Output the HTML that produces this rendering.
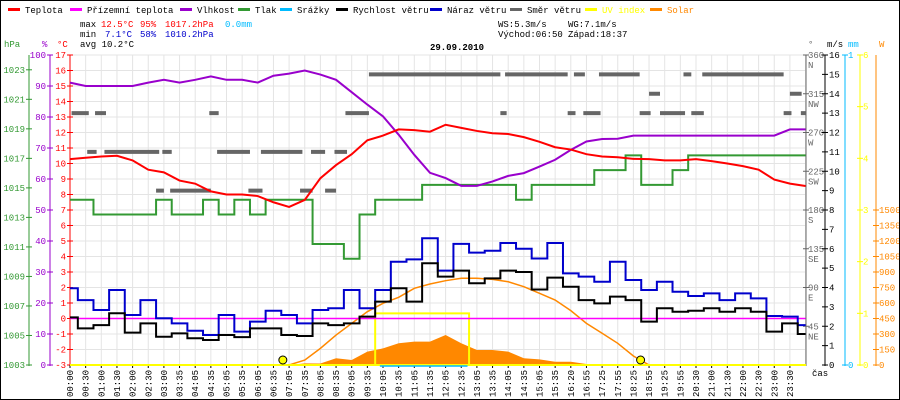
<!DOCTYPE html>
<html><head><meta charset="utf-8"><style>
html,body{margin:0;padding:0;background:#fff}
#wrap{position:relative;width:898px;height:398px;border:1px solid #000;overflow:hidden}
svg{display:block}
text{font-family:"Liberation Mono",monospace;font-size:9px}
</style></head><body>
<div id="wrap">
<svg id="c" width="898" height="398" viewBox="1 1 898 398"></svg>
</div>
<script>
const timeLabels=["00:00","00:30","01:00","01:30","02:00","02:30","03:00","03:35","04:05","04:35","05:05","05:35","06:05","06:35","07:05","07:35","08:05","08:35","09:05","09:35","10:05","10:35","11:05","11:35","12:05","12:35","13:05","13:35","14:05","14:35","15:05","15:35","16:20","16:55","17:25","17:55","18:25","18:55","19:25","19:55","20:30","21:00","21:30","22:00","22:30","23:00","23:30"];
const temperature=[10.28,10.37,10.45,10.5,10.2,9.6,9.43,8.9,8.7,8.2,8.0,8.0,7.9,7.5,7.2,7.65,9.05,9.9,10.6,11.5,11.8,12.2,12.15,12.05,12.5,12.3,12.1,11.95,11.9,11.7,11.4,11.05,10.9,10.6,10.45,10.4,10.3,10.28,10.2,10.2,10.28,10.15,10.0,9.83,9.6,8.96,8.7,8.55];
const apparentTemp=[0,0,0,0,0,0,0,0,0,0,0,0,0,0,0,0,0,0,0,0,0,0,0,0,0,0,0,0,0,0,0,0,0,0,0,0,0,0,0,0,0,0,0,0,0,0,0,0];
const humidity=[91.1,90,90,90,90,91.1,92,91.1,92,93.1,92,92,91.1,93.3,94,95,93.7,92,88,84,80.2,74.3,67.8,62,60.3,57.8,57.8,59.2,61,61.9,64,66.2,69.4,72.1,72.9,73,74,74,74,74,74,74,74,74,74,74,76,76];
const pressure=[1014.2,1014.2,1013.2,1013.2,1013.2,1013.2,1014.2,1013.2,1013.2,1014.2,1013.2,1014.2,1013.2,1014.2,1014.2,1014.2,1011.2,1011.2,1010.2,1013.2,1014.2,1014.2,1014.2,1015.2,1015.2,1015.2,1015.2,1015.2,1015.2,1014.2,1015.2,1015.2,1015.2,1015.2,1016.2,1016.2,1017.2,1015.2,1015.2,1016.2,1017.2,1017.2,1017.2,1017.2,1017.2,1017.2,1017.2,1017.2];
const windSpeed=[2.46,1.89,2.06,2.67,1.67,2.15,1.46,1.63,1.38,1.29,1.55,1.44,1.89,1.89,1.55,1.5,2.15,2.06,2.15,2.5,3.27,3.96,3.27,5.25,4.56,4.87,4.22,4.47,4.87,4.8,3.9,4.51,4.04,3.35,3.18,3.53,3.35,2.24,2.93,2.75,2.8,2.93,2.75,2.93,2.75,1.72,2.15,1.6];
const windGust=[3.96,3.35,2.84,3.87,2.58,3.35,2.41,2.15,1.77,1.55,2.58,1.72,2.24,2.8,2.58,2.15,2.84,2.93,3.87,2.93,3.87,5.33,5.45,6.54,4.87,6.25,5.8,5.9,6.3,6.0,5.5,6.3,4.73,4.56,4.3,5.33,4.39,3.87,4.3,3.78,3.56,3.7,3.35,3.7,3.44,2.53,2.5,2.06];
const uvIndex=[0,0,0,0,0,0,0,0,0,0,0,0,0,0,0,0,0,0,0,0,1,1,1,1,1,1,0,0,0,0,0,0,0,0,0,0,0,0,0,0,0,0,0,0,0,0,0,0];
const solarTheory=[0,0,0,0,0,0,0,0,0,0,0,0,0,0,0,48,161,290,403,516,597,655,742,784,816,839,839,829,806,758,694,629,526,403,307,210,87,0,0,0,0,0,0,0,0,0,0,0];
const solarActual=[0,0,0,0,0,0,0,0,0,0,0,0,0,0,0,16,15,65,48,129,161,210,226,226,290,210,145,145,129,65,55,32,32,10,0,0,10,0,0,0,0,0,0,0,0,0,0,0];
const dirStart=[0.1,1.6,8.9,17.6,1.1,2.2,5.9,9.4,12.2,15.4,16.9,5.5,6.4,11.4,14.7,16.3,19.1,27.8,32.2,33.8,39.2,40.4,37,46,27.5,31.8,32.8,36.4,37.7,39.7,45.6,46.7];
const dirEnd=[1.2,2.3,9.5,19.1,1.7,5.7,6.5,11.5,14.85,16.3,17.7,6.0,9.0,12.3,15.5,17.0,27.5,31.8,32.9,36.4,39.7,45.6,37.7,46.75,27.9,32.3,33.9,37.1,39.3,40.5,46.1,47];
const dirDeg=[292.5,292.5,292.5,292.5,247.5,247.5,247.5,247.5,247.5,247.5,247.5,202.5,202.5,202.5,202.5,202.5,337.5,337.5,337.5,337.5,337.5,337.5,315,315,292.5,292.5,292.5,292.5,292.5,292.5,292.5,292.5];
const sunEvents=[13.6,36.46];

const NS="http://www.w3.org/2000/svg";
const svg=document.getElementById('c');
const X=t=>70+t*15.65;
const yT=v=>55+(17-v)*15.5;
const yH=v=>365-v*3.1;
const yP=v=>365-(v-1003)*14.76;
const yW=v=>365-v*19.375;
const yD=v=>365-v*0.8611;
const yUV=v=>365-v*51.67;
const yS=v=>365-v*0.10333;
function el(tag,attrs,parent){const e=document.createElementNS(NS,tag);for(const k in attrs)e.setAttribute(k,attrs[k]);(parent||svg).appendChild(e);return e;}
function txt(x,y,s,fill,anchor,extra){const e=el('text',Object.assign({x:x,y:y,fill:fill||'#000','text-anchor':anchor||'start'},extra||{}));e.textContent=s;return e;}

// grid
const grid=el('g',{});


for(let v=-3;v<=17;v++){el('line',{x1:70,x2:806,y1:yT(v),y2:yT(v),stroke:'#e4e4e4','stroke-width':1},grid);}
for(let i=0;i<=47;i++){el('line',{x1:X(i),x2:X(i),y1:55,y2:365,stroke:'#e4e4e4','stroke-width':1},grid);}

// legend
const legend=[["Teplota","#ff0000",8],["Přízemní teplota","#ff00ff",70],["Vlhkost","#9900cc",180],["Tlak","#339933",238],["Srážky","#00bbff",280],["Rychlost větru","#000000",336],["Náraz větru","#0000cc",430],["Směr větru","#666666",510],["UV index","#ffff00",585],["Solar","#ff8800",650]];
legend.forEach(l=>{const g=el('g',{});


el('rect',{x:l[2],y:8,width:12,height:3,fill:l[1]},g);
const t=txt(l[2]+17,13,l[0],l[0]==="UV index"?'#ffff00':(l[0]==="Solar"?'#ff8800':'#000'));g.appendChild(t);});

// stats
function stat(x,y,s,c,name){const t=txt(x,y,s,c);}
stat(80,27,"max","#000","max-label");stat(101,27,"12.5°C","#ff0000","max-temp");stat(140,27,"95%","#ff0000","max-humidity");stat(165,27,"1017.2hPa","#ff0000","max-pressure");stat(225,27,"0.0mm","#00bbff","rain-total");
stat(80,37,"min","#000","min-label");stat(105,37,"7.1°C","#0000cc","min-temp");stat(140,37,"58%","#0000cc","min-humidity");stat(165,37,"1010.2hPa","#0000cc","min-pressure");
stat(80,47,"avg 10.2°C","#000","avg-temp");
stat(498,27,"WS:5.3m/s","#000","max-wind-speed");stat(568,27,"WG:7.1m/s","#000","max-wind-gust");
stat(498,37,"Východ:06:50","#000","sunrise-time");stat(568,37,"Západ:18:37","#000","sunset-time");
const title=txt(457,50,"29.09.2010","#000","middle",{'font-size':'12px','font-weight':'bold'});


// left axes
function axis(x,color,ticks,yf,name,labelX,anchor){const g=el('g',{});


el('line',{x1:x,x2:x,y1:55,y2:366,stroke:color,'stroke-width':1},g);
ticks.forEach(v=>{const y=yf(v);el('line',{x1:x-3,x2:x+3,y1:y,y2:y,stroke:color},g);const t=txt(labelX,y+3,String(v),color,anchor);g.appendChild(t);});}
const hpaTicks=[1003,1005,1007,1009,1011,1013,1015,1017,1019,1021,1023];
const humTicks=[0,10,20,30,40,50,60,70,80,90,100];
const tTicks=[];for(let v=-3;v<=17;v++)tTicks.push(v);
axis(29,'#339933',hpaTicks,yP,'pressure-axis',25,'end');
axis(50,'#9900cc',humTicks,yH,'humidity-axis',46,'end');
axis(70,'#ff0000',tTicks,yT,'temperature-axis',66,'end');
txt(4,47,"hPa","#339933");txt(42,47,"%","#9900cc");txt(57,47,"°C","#ff0000");
// right axes
const dirTicks=[45,90,135,180,225,270,315,360];const dirNames=["NE","E","SE","S","SW","W","NW","N"];
(function(){const g=el('g',{});
el('line',{x1:806,x2:806,y1:55,y2:366,stroke:'#666'},g);
dirTicks.forEach((v,i)=>{const y=yD(v);el('line',{x1:803,x2:809,y1:y,y2:y,stroke:'#666'},g);g.appendChild(txt(808,y+3,String(v),'#666'));g.appendChild(txt(808,y+13,dirNames[i],'#666'));});})();
const wsTicks=[];for(let v=0;v<=16;v++)wsTicks.push(v);
axis(825,'#000',wsTicks,yW,'wind-axis',829,'start');
axis(845,'#00bbff',[0,1],v=>365-v*310,'rain-axis',848,'start');
axis(860,'#ffff00',[0,1,2,3,4,5,6],yUV,'uv-axis',863,'start');
axis(876,'#ff8800',[0,150,300,450,600,750,900,1050,1200,1350,1500],yS,'solar-axis',879,'start');
txt(808,47,"°","#666");txt(827,47,"m/s","#000");txt(848,47,"mm","#00bbff");txt(879,47,"W","#ff8800");
txt(812,376,"čas","#000");

// time labels
timeLabels.forEach((s,i)=>{const x=X(i)+3;const t=txt(x,397,s,'#000','start',{transform:`rotate(-90 ${x} 397)`});

el('line',{x1:X(i),x2:X(i),y1:365,y2:368,stroke:'#000'});});

// series helpers
function linePts(arr,yf){return arr.map((v,i)=>X(i)+','+yf(v)).join(' ');}
function stepPts(arr,yf){const p=[];arr.forEach((v,i)=>{const a=Math.max(0,i-0.5),b=Math.min(47,i+0.5);p.push(X(a)+','+yf(v));p.push(X(b)+','+yf(v));});return p.join(' ');}

// solar actual area
const sa=el('polygon',{points:X(0)+',365 '+linePts(solarActual,yS)+' '+X(47)+',365',fill:'#ff8800'});

const st=el('polyline',{points:linePts(solarTheory,yS),fill:'none',stroke:'#ff8800','stroke-width':1.5});

const uv=el('polyline',{points:stepPts(uvIndex,yUV),fill:'none',stroke:'#ffff00','stroke-width':2});

// direction dashes
dirDeg.forEach((d,i)=>{const r=el('rect',{x:X(dirStart[i]),y:yD(d)-2,width:X(dirEnd[i])-X(dirStart[i]),height:4,fill:'#666'});
});
const pr=el('polyline',{points:stepPts(pressure,yP),fill:'none',stroke:'#339933','stroke-width':2});

const hu=el('polyline',{points:linePts(humidity,yH),fill:'none',stroke:'#9900cc','stroke-width':2});

const ap=el('polyline',{points:linePts(apparentTemp,yT),fill:'none',stroke:'#ff00ff','stroke-width':1.5});

const gu=el('polyline',{points:stepPts(windGust,yW),fill:'none',stroke:'#0000cc','stroke-width':2});

const ws=el('polyline',{points:stepPts(windSpeed,yW),fill:'none',stroke:'#000','stroke-width':2});

const te=el('polyline',{points:linePts(temperature,yT),fill:'none',stroke:'#ff0000','stroke-width':2});

// baseline
el('line',{x1:70,x2:806,y1:365,y2:365,stroke:'#ffff00','stroke-width':2});
el('line',{x1:X(19.8),x2:X(25.4),y1:366,y2:366,stroke:'#00bbff','stroke-width':1.5});
sunEvents.forEach(t=>{const c=el('circle',{cx:X(t),cy:360,r:4,fill:'#ffff00',stroke:'#000','stroke-width':1});
});
</script>
</body></html>
